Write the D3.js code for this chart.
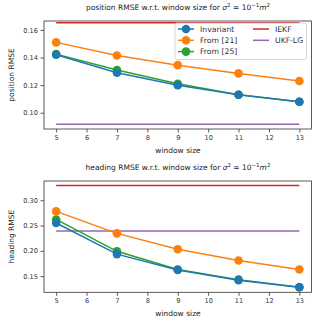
<!DOCTYPE html>
<html>
<head>
<meta charset="utf-8">
<script src="https://cdn.jsdelivr.net/npm/d3@7"></script>
<style>
body { margin: 0; background: #fff; }
svg { font-family: "DejaVu Sans", sans-serif; }
</style>
</head>
<body>
<div id="chart"></div>
<script>
var windowSizes = [5, 7, 9, 11, 13];
var xTicks = [5, 6, 7, 8, 9, 10, 11, 12, 13];

// position RMSE
var posInvariant = [0.142, 0.129, 0.120, 0.113, 0.108];
var posFrom21 = [0.151, 0.1415, 0.1345, 0.1285, 0.123];
var posFrom25 = [0.1425, 0.131, 0.121, 0.113, 0.108];
var posIEKF = 0.1653;
var posUKF = 0.0916;
var posTicks = [0.10, 0.12, 0.14, 0.16];

// heading RMSE
var headInvariant = [0.255, 0.1935, 0.162, 0.142, 0.128];
var headFrom21 = [0.278, 0.2345, 0.203, 0.181, 0.163];
var headFrom25 = [0.262, 0.199, 0.163, 0.143, 0.128];
var headIEKF = 0.329;
var headUKF = 0.239;
var headTicks = [0.15, 0.20, 0.25, 0.30];

var colors = { inv: "#1f77b4", f21: "#ff7f0e", f25: "#2ca02c", iekf: "#d62728", ukf: "#9467bd" };

var width = 313, height = 319;
var svg = d3.select("#chart").append("svg")
    .attr("width", width)
    .attr("height", height);

function title(g, x, y, prefix) {
    var t = g.append("text")
        .attr("x", x).attr("y", y)
        .attr("text-anchor", "middle")
        .attr("font-size", 7.5)
        .attr("fill", "#222");
    t.append("tspan").text(prefix + " RMSE w.r.t. window size for ");
    t.append("tspan").attr("font-style", "italic").text("σ");
    t.append("tspan").attr("dy", -3).attr("font-size", 5.5).text("2");
    t.append("tspan").attr("dy", 3).text(" = 10");
    t.append("tspan").attr("dy", -3).attr("font-size", 5.5).text("−1");
    t.append("tspan").attr("dy", 3).attr("font-style", "italic").text("m");
    t.append("tspan").attr("dy", -3).attr("font-size", 5.5).text("2");
}

function panel(opts) {
    var x = d3.scaleLinear().domain([4.6, 13.4]).range([44, 311.5]);
    var y = d3.scaleLinear().domain(opts.domain).range([opts.bottom, opts.top]);
    var g = svg.append("g");

    var line = d3.line()
        .x(function (d, i) { return x(windowSizes[i]); })
        .y(function (d) { return y(d); });

    // constant baselines
    [[opts.iekf, colors.iekf], [opts.ukf, colors.ukf]].forEach(function (h) {
        g.append("line")
            .attr("x1", x(5)).attr("x2", x(13))
            .attr("y1", y(h[0])).attr("y2", y(h[0]))
            .attr("stroke", h[1]).attr("stroke-width", 1.5);
    });

    [[opts.f25, colors.f25], [opts.f21, colors.f21], [opts.inv, colors.inv]].forEach(function (s) {
        g.append("path")
            .datum(s[0])
            .attr("d", line)
            .attr("fill", "none")
            .attr("stroke", s[1])
            .attr("stroke-width", 1.5);
        g.selectAll(null)
            .data(s[0])
            .enter()
            .append("circle")
            .attr("cx", function (d, i) { return x(windowSizes[i]); })
            .attr("cy", function (d) { return y(d); })
            .attr("r", 4.3)
            .attr("fill", s[1]);
    });

    // frame
    g.append("rect")
        .attr("x", 44).attr("y", opts.top)
        .attr("width", 311.5 - 44).attr("height", opts.bottom - opts.top)
        .attr("fill", "none").attr("stroke", "#333").attr("stroke-width", 0.8);

    var xa = g.append("g")
        .attr("transform", "translate(0," + opts.bottom + ")")
        .call(d3.axisBottom(x).tickValues(xTicks).tickFormat(d3.format("d")).tickSize(3.5).tickPadding(2.5));
    var ya = g.append("g")
        .attr("transform", "translate(44,0)")
        .call(d3.axisLeft(y).tickValues(opts.ticks).tickFormat(d3.format(".2f")).tickSize(3.5).tickPadding(2.5));
    [xa, ya].forEach(function (a) {
        a.select(".domain").remove();
        a.selectAll("line").attr("stroke", "#333").attr("stroke-width", 0.8);
        a.selectAll("text").attr("font-size", 6.6).attr("fill", "#333").attr("font-family", "DejaVu Sans");
    });

    g.append("text")
        .attr("x", 178).attr("y", opts.bottom + 24)
        .attr("text-anchor", "middle")
        .attr("font-size", 7.5).attr("fill", "#222")
        .text("window size");
    g.append("text")
        .attr("transform", "translate(14," + ((opts.top + opts.bottom) / 2) + ") rotate(-90)")
        .attr("text-anchor", "middle")
        .attr("font-size", 7.5).attr("fill", "#222")
        .text(opts.ylabel);

    title(svg, 178, opts.top - 11, opts.name);
    return g;
}

var top1 = panel({
    name: "position", ylabel: "position RMSE",
    domain: [0.0882, 0.1665], top: 21, bottom: 129,
    inv: posInvariant, f21: posFrom21, f25: posFrom25,
    iekf: posIEKF, ukf: posUKF, ticks: posTicks
});
panel({
    name: "heading", ylabel: "heading RMSE",
    domain: [0.118, 0.338], top: 181, bottom: 292.3,
    inv: headInvariant, f21: headFrom21, f25: headFrom25,
    iekf: headIEKF, ukf: headUKF, ticks: headTicks
});

// legend in the top panel
var legendItems = [
    { label: "Invariant", color: colors.inv, marker: true, col: 0, row: 0 },
    { label: "From [21]", color: colors.f21, marker: true, col: 0, row: 1 },
    { label: "From [25]", color: colors.f25, marker: true, col: 0, row: 2 },
    { label: "IEKF", color: colors.iekf, marker: false, col: 1, row: 0 },
    { label: "UKF-LG", color: colors.ukf, marker: false, col: 1, row: 1 }
];
var lg = svg.append("g");
lg.append("rect")
    .attr("x", 175).attr("y", 23)
    .attr("width", 131.5).attr("height", 36.5)
    .attr("rx", 2)
    .attr("fill", "#fff").attr("fill-opacity", 0.8)
    .attr("stroke", "#ccc").attr("stroke-width", 0.8);
var item = lg.selectAll(".item")
    .data(legendItems)
    .enter()
    .append("g")
    .attr("transform", function (d) {
        return "translate(" + (d.col ? 253 : 178) + "," + (29 + d.row * 11.3) + ")";
    });
item.append("line")
    .attr("x1", 0).attr("x2", 16)
    .attr("stroke", function (d) { return d.color; })
    .attr("stroke-width", 1.5);
item.filter(function (d) { return d.marker; })
    .append("circle")
    .attr("cx", 8).attr("r", 4.3)
    .attr("fill", function (d) { return d.color; });
item.append("text")
    .attr("x", function (d) { return d.col ? 22 : 22; })
    .attr("dy", "0.35em")
    .attr("font-size", 7.7).attr("fill", "#333")
    .text(function (d) { return d.label; });
</script>
</body>
</html>
